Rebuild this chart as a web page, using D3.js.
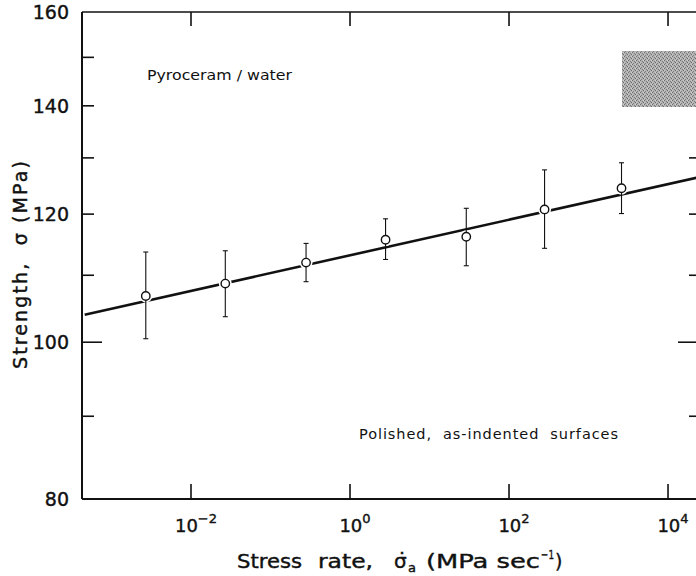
<!DOCTYPE html>
<html>
<head>
<meta charset="utf-8">
<script src="https://cdn.jsdelivr.net/npm/d3@7"></script>
<style>
  body { margin: 0; background: #fff; }
  svg { display: block; }
  text { font-family: "DejaVu Sans", sans-serif; fill: #111; }
  .heavy { stroke: #111; stroke-width: 0.4px; }
</style>
</head>
<body>
<div id="chart"></div>
<script>
// data
var rates = [2.7e-3, 2.7e-2, 2.8e-1, 2.8, 29, 280, 2600];
var strength = [106.8, 108.7, 112.0, 115.7, 116.2, 120.8, 124.5];
var errHigh = [113.7, 113.9, 115.1, 119.2, 121.0, 127.8, 129.1];
var errLow = [100.5, 103.7, 109.0, 112.5, 111.5, 114.3, 120.1];
var fitRates = [4.6e-4, 2.5e4];
var fitStrength = [104.0, 126.5];
var xTicks = [1e-2, 1, 1e2, 1e4];
var xTickExp = ["\u22122", "0", "2", "4"];
var yMajor = [80, 100, 120, 140, 160];
var yMinor = [90, 110, 130, 150];

// plot frame
var margin = { left: 82, right: 698, top: 12, bottom: 499 };
var width = 696, height = 576;

var svg = d3.select("#chart").append("svg")
    .attr("width", width)
    .attr("height", height);

// set the ranges
var x = d3.scaleLog()
    .domain([Math.pow(10, -3.371), Math.pow(10, 4.377)])
    .range([margin.left, margin.right]);
var y = d3.scaleLog()
    .domain([80, 160])
    .range([margin.bottom, margin.top]);

// stipple pattern for the shaded box
var defs = svg.append("defs");
var pat = defs.append("pattern")
    .attr("id", "stip")
    .attr("width", 4).attr("height", 4)
    .attr("patternUnits", "userSpaceOnUse");
pat.append("rect").attr("width", 4).attr("height", 4).attr("fill", "#b2b2b2");
[[0, 0, "#707070"], [2, 1, "#7c7c7c"], [1, 3, "#848484"], [3, 2, "#6a6a6a"], [3, 0, "#d0d0d0"], [0, 2, "#c8c8c8"]]
    .forEach(function (p) {
        pat.append("rect").attr("x", p[0]).attr("y", p[1])
            .attr("width", 1).attr("height", 1).attr("fill", p[2]);
    });

svg.append("rect")
    .attr("x", 622).attr("y", 51)
    .attr("width", 80).attr("height", 56)
    .attr("fill", "url(#stip)");

// frame
svg.append("line").attr("x1", margin.left).attr("x2", margin.left)
    .attr("y1", margin.top).attr("y2", margin.bottom)
    .attr("stroke", "#111").attr("stroke-width", 2);
svg.append("line").attr("x1", margin.left).attr("x2", margin.right)
    .attr("y1", margin.bottom).attr("y2", margin.bottom)
    .attr("stroke", "#111").attr("stroke-width", 2);
svg.append("line").attr("x1", margin.left).attr("x2", margin.right)
    .attr("y1", margin.top).attr("y2", margin.top)
    .attr("stroke", "#111").attr("stroke-width", 1.5);

// y ticks, left and right
var yAll = yMajor.slice(1, -1).concat(yMinor);
svg.selectAll(".ytl")
    .data(yAll)
    .enter().append("line")
    .attr("x1", margin.left)
    .attr("x2", function (d) { return margin.left + (d === 100 ? 20 : 12); })
    .attr("y1", function (d) { return y(d); })
    .attr("y2", function (d) { return y(d); })
    .attr("stroke", "#111").attr("stroke-width", 1.6);
svg.selectAll(".ytr")
    .data(yAll.filter(function (d) { return d < 140; }))
    .enter().append("line")
    .attr("x1", margin.right)
    .attr("x2", function (d) { return margin.right - (d === 100 ? 20 : 9); })
    .attr("y1", function (d) { return y(d); })
    .attr("y2", function (d) { return y(d); })
    .attr("stroke", "#111").attr("stroke-width", 1.6);

svg.selectAll(".ylab")
    .data(yMajor)
    .enter().append("text")
    .attr("class", "heavy")
    .attr("x", 69)
    .attr("y", function (d) { return y(d) + 7; })
    .attr("text-anchor", "end")
    .style("font-size", "19px")
    .text(function (d) { return d; });

// x ticks, bottom and top
svg.selectAll(".xtb")
    .data(xTicks)
    .enter().append("line")
    .attr("x1", function (d) { return x(d); })
    .attr("x2", function (d) { return x(d); })
    .attr("y1", margin.bottom)
    .attr("y2", margin.bottom - 15)
    .attr("stroke", "#111").attr("stroke-width", 1.6);
svg.selectAll(".xtt")
    .data(xTicks)
    .enter().append("line")
    .attr("x1", function (d) { return x(d); })
    .attr("x2", function (d) { return x(d); })
    .attr("y1", margin.top)
    .attr("y2", margin.top + 14)
    .attr("stroke", "#111").attr("stroke-width", 1.6);

var xl = svg.selectAll(".xlab")
    .data(xTicks)
    .enter().append("text")
    .attr("class", "heavy")
    .attr("x", function (d) { return x(d) + 5; })
    .attr("y", 532)
    .attr("text-anchor", "middle")
    .style("font-size", "18px");
xl.append("tspan").text("10");
xl.append("tspan")
    .attr("dy", -9)
    .style("font-size", "13px")
    .text(function (d, i) { return xTickExp[i]; });

// fitted line
svg.append("line")
    .attr("x1", x(fitRates[0])).attr("y1", y(fitStrength[0]))
    .attr("x2", x(fitRates[1])).attr("y2", y(fitStrength[1]))
    .attr("stroke", "#111").attr("stroke-width", 2.6);

var pts = rates.map(function (r, i) {
    return { rate: r, s: strength[i], hi: errHigh[i], lo: errLow[i] };
});

// white gaps in the line around each point
svg.selectAll(".halo")
    .data(pts)
    .enter().append("circle")
    .attr("cx", function (d) { return x(d.rate); })
    .attr("cy", function (d) { return y(d.s); })
    .attr("r", 6.5)
    .attr("fill", "#fff");

// error bars
svg.selectAll(".eb")
    .data(pts)
    .enter().append("line")
    .attr("x1", function (d) { return x(d.rate); })
    .attr("x2", function (d) { return x(d.rate); })
    .attr("y1", function (d) { return y(d.hi); })
    .attr("y2", function (d) { return y(d.lo); })
    .attr("stroke", "#111").attr("stroke-width", 1.1);
["hi", "lo"].forEach(function (k) {
    svg.selectAll(".cap" + k)
        .data(pts)
        .enter().append("line")
        .attr("x1", function (d) { return x(d.rate) - 2.5; })
        .attr("x2", function (d) { return x(d.rate) + 2.5; })
        .attr("y1", function (d) { return y(d[k]); })
        .attr("y2", function (d) { return y(d[k]); })
        .attr("stroke", "#111").attr("stroke-width", 1.1);
});

svg.selectAll(".pt")
    .data(pts)
    .enter().append("circle")
    .attr("cx", function (d) { return x(d.rate); })
    .attr("cy", function (d) { return y(d.s); })
    .attr("r", 4.2)
    .attr("fill", "#fff")
    .attr("stroke", "#111").attr("stroke-width", 1.4);

// annotations
svg.append("text")
    .attr("x", 147).attr("y", 80)
    .attr("textLength", 145).attr("lengthAdjust", "spacingAndGlyphs")
    .style("font-size", "14.5px")
    .text("Pyroceram / water");
svg.append("text")
    .attr("x", 359).attr("y", 439)
    .attr("textLength", 259).attr("lengthAdjust", "spacing")
    .style("font-size", "14.5px")
    .style("white-space", "pre")
    .text("Polished,  as-indented  surfaces");

// x axis title, set in pieces to match the wide lettering
var xt = svg.append("g").attr("class", "heavy");
function piece(str, px, py, size, len) {
    var t = xt.append("text")
        .attr("x", px).attr("y", py)
        .style("font-size", size + "px")
        .text(str);
    if (len) t.attr("textLength", len).attr("lengthAdjust", "spacingAndGlyphs");
    return t;
}
piece("Stress", 237, 568, 19, 65);
piece("rate,", 318, 568, 19, 55);
piece("\u03C3", 394, 568, 20);
piece("\u02D9", 397, 567, 20);
piece("a", 408, 572, 13);
piece("(MPa sec", 426, 568, 19, 114);
piece("\u22121", 541, 559, 13, 13);
piece(")", 555, 568, 19);

svg.append("text")
    .attr("class", "heavy")
    .attr("transform", "translate(27,265) rotate(-90)")
    .attr("text-anchor", "middle")
    .attr("textLength", 208).attr("lengthAdjust", "spacing")
    .style("font-size", "19px")
    .style("white-space", "pre")
    .text("Strength,  \u03C3 (MPa)");
</script>
</body>
</html>
